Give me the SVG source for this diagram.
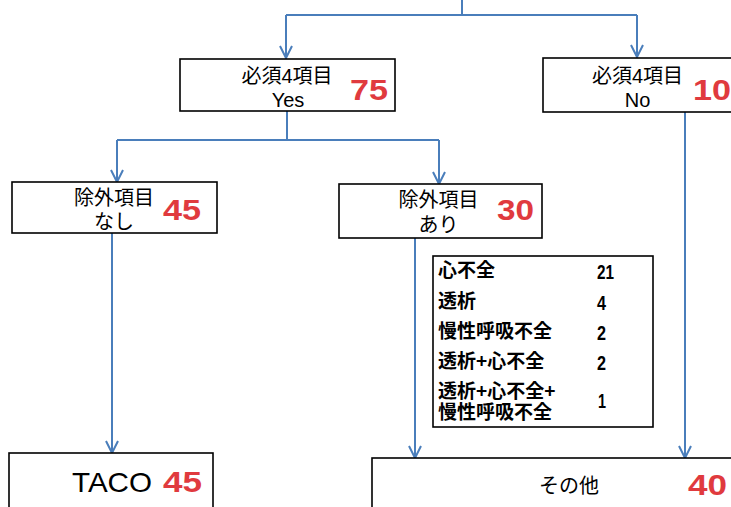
<svg xmlns="http://www.w3.org/2000/svg" width="731" height="507" viewBox="0 0 731 507">
<style>
.box{fill:#fff;stroke:#000;stroke-width:1.6}
.ln{fill:none;stroke:#4a7ebb;stroke-width:2}
.t{font-family:"Liberation Sans","Noto Sans CJK JP",sans-serif;font-size:20px;fill:#000;text-anchor:middle}
.r{font-family:"Liberation Sans",Arial,sans-serif;font-weight:bold;font-size:30px;fill:#e03a3e}
.tb{font-family:"Noto Sans CJK JP",sans-serif;font-weight:bold;font-size:19px;fill:#000}
.n{font-family:"Liberation Sans",sans-serif;font-weight:bold;font-size:21px;fill:#000}
</style>
<defs>
<marker id="ah" markerWidth="14" markerHeight="14" viewBox="0 0 14 14" refX="13" refY="7" orient="auto" markerUnits="userSpaceOnUse">
<path d="M1,1 L13,7 L1,13" fill="none" stroke="#4a7ebb" stroke-width="2"/>
</marker>
</defs>
<rect width="731" height="507" fill="#fff"/>
<g id="connectors">
<path class="ln" d="M462,0 V15"/>
<path class="ln" d="M286,15 H637"/>
<path class="ln" d="M286,15 V58" marker-end="url(#ah)"/>
<path class="ln" d="M637,15 V57" marker-end="url(#ah)"/>
<path class="ln" d="M287,111 V140"/>
<path class="ln" d="M117,140 H439"/>
<path class="ln" d="M117,140 V182" marker-end="url(#ah)"/>
<path class="ln" d="M439,140 V184" marker-end="url(#ah)"/>
<path class="ln" d="M112,233 V453" marker-end="url(#ah)"/>
<path class="ln" d="M415,238 V458" marker-end="url(#ah)"/>
<path class="ln" d="M685,112 V458" marker-end="url(#ah)"/>
</g>
<g id="yes">
<rect class="box" x="180" y="59" width="215" height="52"/>
<text class="t" x="287" y="82.5">必須4項目</text>
<text class="t" x="288" y="107">Yes</text>
<text class="r" x="350" y="100" textLength="38" lengthAdjust="spacingAndGlyphs">75</text>
</g>
<g id="no">
<rect class="box" x="543" y="58" width="200" height="54"/>
<text class="t" x="637.5" y="82.5">必須4項目</text>
<text class="t" x="637.5" y="107">No</text>
<text class="r" x="693" y="100" textLength="38" lengthAdjust="spacingAndGlyphs">10</text>
</g>
<g id="nashi">
<rect class="box" x="12" y="182" width="205" height="51"/>
<text class="t" x="114" y="204.5">除外項目</text>
<text class="t" x="114" y="228.5">なし</text>
<text class="r" x="163" y="220" textLength="38" lengthAdjust="spacingAndGlyphs">45</text>
</g>
<g id="ari">
<rect class="box" x="339" y="184" width="203" height="54"/>
<text class="t" x="438.5" y="207">除外項目</text>
<text class="t" x="438.5" y="231.5">あり</text>
<text class="r" x="497" y="220" textLength="37" lengthAdjust="spacingAndGlyphs">30</text>
</g>
<g id="table">
<rect class="box" x="433" y="256" width="220" height="171"/>
<text class="tb" x="438" y="277">心不全</text>
<text class="tb" x="438" y="308">透析</text>
<text class="tb" x="438" y="338">慢性呼吸不全</text>
<text class="tb" x="438" y="368">透析+心不全</text>
<text class="tb"><tspan x="438" y="398">透析+心不全+</tspan><tspan x="438" y="419">慢性呼吸不全</tspan></text>
<text class="n" x="597" y="279" textLength="17" lengthAdjust="spacingAndGlyphs">21</text>
<text class="n" x="597" y="310" textLength="9" lengthAdjust="spacingAndGlyphs">4</text>
<text class="n" x="597" y="340" textLength="9" lengthAdjust="spacingAndGlyphs">2</text>
<text class="n" x="597" y="370" textLength="9" lengthAdjust="spacingAndGlyphs">2</text>
<text class="n" x="598" y="408" textLength="8" lengthAdjust="spacingAndGlyphs">1</text>
</g>
<g id="taco">
<rect class="box" x="9" y="453" width="204" height="60"/>
<text x="72" y="492" style="font-family:'Liberation Sans',sans-serif;font-size:28px;fill:#000" textLength="80" lengthAdjust="spacingAndGlyphs">TACO</text>
<text class="r" x="163" y="492" textLength="39" lengthAdjust="spacingAndGlyphs">45</text>
</g>
<g id="sonota">
<rect class="box" x="372" y="458" width="380" height="60"/>
<text class="t" x="569" y="492.5">その他</text>
<text class="r" x="688" y="495" textLength="39" lengthAdjust="spacingAndGlyphs">40</text>
</g>
</svg>
